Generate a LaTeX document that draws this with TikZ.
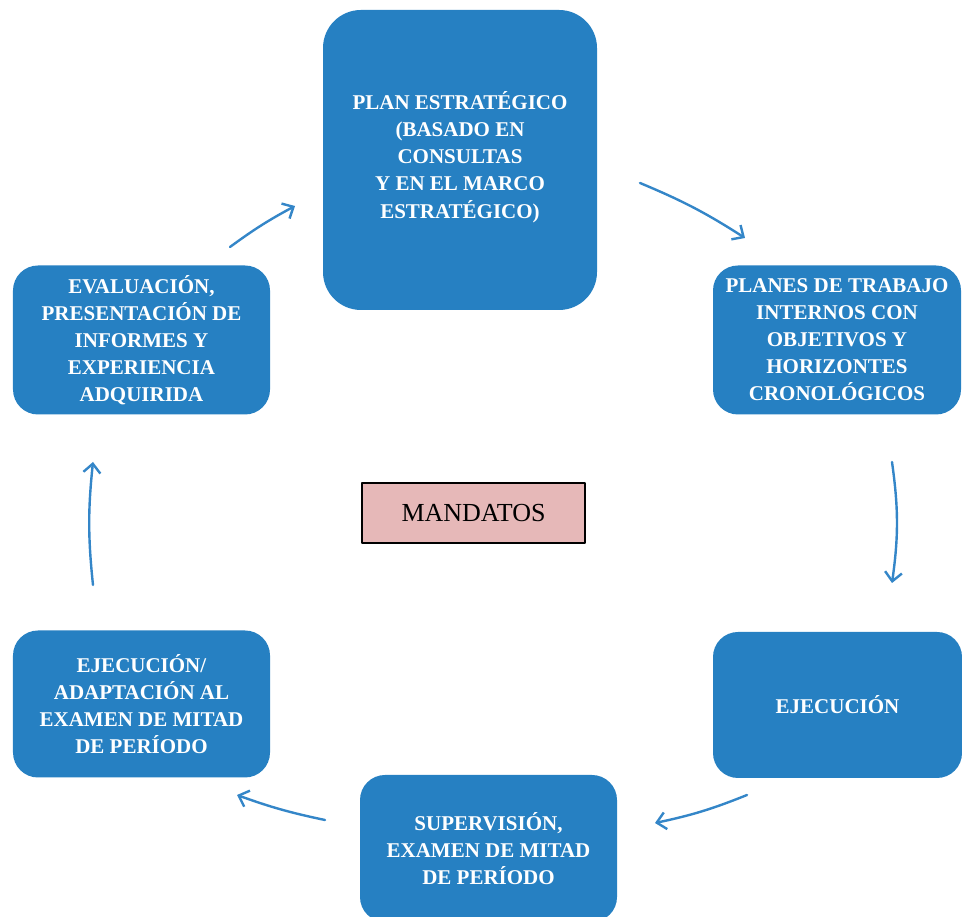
\documentclass[tikz,border=0pt]{standalone}
\usepackage{fontspec}
\setmainfont{Liberation Serif}
\usetikzlibrary{arrows.meta}
\definecolor{stageblue}{RGB}{38,128,194}
\definecolor{arrowblue}{RGB}{52,134,200}
\definecolor{mandpink}{RGB}{230,184,184}
\tikzset{
  stage/.style={fill=stageblue, rounded corners=25bp, inner sep=0pt, align=center,
    text=white, font=\bfseries\fontsize{21bp}{27bp}\selectfont},
  flow/.style={draw=arrowblue, line width=2.4bp, line cap=round,
    -{Straight Barb[length=9bp,width=17bp,line width=2.4bp]}},
}
\begin{document}
\begin{tikzpicture}[x=1bp,y=1bp,line join=bevel]
  \useasboundingbox (0,0) rectangle (962,917);
  % Node: plan
  \node[stage, rounded corners=38bp, minimum width=274bp, minimum height=300bp] (plan) at (460,757)
    {PLAN ESTRATÉGICO\\(BASADO EN\\CONSULTAS\\Y EN EL MARCO\\ESTRATÉGICO)\\[-17bp]};
  % Node: planes
  \node[stage, minimum width=248bp, minimum height=149bp] (planes) at (837,577)
    {PLANES DE TRABAJO\\INTERNOS CON\\OBJETIVOS Y\\HORIZONTES\\CRONOLÓGICOS};
  % Node: ejec
  \node[stage, minimum width=249bp, minimum height=146bp] (ejec) at (837.5,212)
    {EJECUCIÓN};
  % Node: superv
  \node[stage, minimum width=257bp, minimum height=147bp] (superv) at (488.5,68.5)
    {SUPERVISIÓN,\\EXAMEN DE MITAD\\DE PERÍODO};
  % Node: adapt
  \node[stage, minimum width=257bp, minimum height=147bp] (adapt) at (141.5,213)
    {EJECUCIÓN/\\ADAPTACIÓN AL\\EXAMEN DE MITAD\\DE PERÍODO};
  % Node: eval
  \node[stage, minimum width=257bp, minimum height=149bp] (eval) at (141.5,577)
    {EVALUACIÓN,\\PRESENTACIÓN DE\\INFORMES Y\\EXPERIENCIA\\ADQUIRIDA};
  % Node: mandatos
  \node[draw=black, line width=1.4bp, fill=mandpink, minimum width=223bp, minimum height=60bp,
    font=\fontsize{26bp}{30bp}\selectfont] (mandatos) at (473.5,404) {MANDATOS};
  % arrow ends
  \coordinate (planA) at (640,734);   \coordinate (planesB) at (745,679);
  \coordinate (planesA) at (892,455); \coordinate (ejecB) at (892,334);
  \coordinate (ejecA) at (747,122);   \coordinate (supervB) at (655,94);
  \coordinate (supervA) at (325,97);  \coordinate (adaptB) at (237,122);
  \coordinate (adaptA) at (93,332);   \coordinate (evalB) at (93,455);
  \coordinate (evalA) at (230,670);   \coordinate (planB) at (295,711);
  % Edge: plan -> planes
  \draw[flow] (planA) to[bend left=5] (planesB);
  % Edge: planes -> ejec
  \draw[flow] (planesA) to[bend left=8] (ejecB);
  % Edge: ejec -> superv
  \draw[flow] (ejecA) to[bend left=5] (supervB);
  % Edge: superv -> adapt
  \draw[flow] (supervA) to[bend left=4] (adaptB);
  % Edge: adapt -> eval
  \draw[flow] (adaptA) to[bend left=6] (evalB);
  % Edge: eval -> plan
  \draw[flow] (evalA) to[bend left=4] (planB);
\end{tikzpicture}
\end{document}
